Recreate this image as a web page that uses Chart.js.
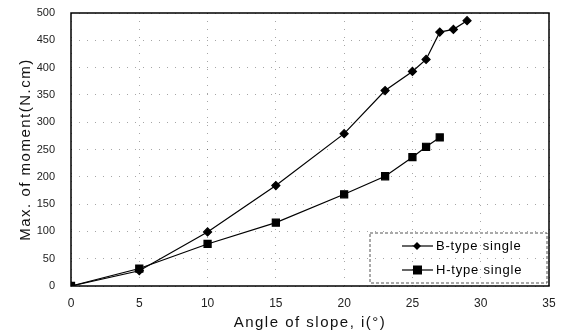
<!DOCTYPE html>
<html>
<head>
<meta charset="utf-8">
<script src="https://cdn.jsdelivr.net/npm/chart.js@4"></script>
<style>
  html, body { margin: 0; padding: 0; background: #fff; }
  #wrap { width: 563px; height: 334px; }
</style>
</head>
<body>
<div id="wrap"><canvas id="momentChart" width="563" height="334"></canvas></div>
<script>
// Data
const bAngles = [0, 5, 10, 15, 20, 23, 25, 26, 27, 28, 29];
const bMoment = [0, 28, 99, 184, 279, 358, 393, 415, 465, 470, 486];
const hAngles = [0, 5, 10, 15, 20, 23, 25, 26, 27];
const hMoment = [0, 32, 77, 116, 168, 201, 236, 255, 272];
const seriesNames = ['B-type single', 'H-type single'];
const xTitle = 'Angle of slope, i(°)';
const yTitle = 'Max. of moment(N.cm)';

const FONT = '"Liberation Sans", Arial, sans-serif';
const toPoints = (xs, ys) => xs.map((x, i) => ({ x: x, y: ys[i] }));

// axis titles are widely spaced in the scanned original
const spacingPlugin = {
    id: 'spacing',
    afterUpdate(chart) {
        Object.values(chart.scales).forEach(s => {
            if (s._spaced) return;
            const orig = s.drawTitle.bind(s);
            s.drawTitle = function () {
                const ctx = this.ctx;
                const prev = ctx.letterSpacing;
                ctx.letterSpacing = '1.5px';
                orig();
                ctx.letterSpacing = prev;
            };
            s._spaced = true;
        });
    }
};

// box round the plot area + legend inside it
const framePlugin = {
    id: 'frame',
    afterDraw(chart) {
        const { ctx, chartArea: a } = chart;
        ctx.save();
        ctx.strokeStyle = '#000';
        ctx.lineWidth = 1.5;
        ctx.strokeRect(a.left, a.top, a.right - a.left, a.bottom - a.top);

        // legend box
        const lx = 370, ly = 233, lw = 177, lh = 50;
        ctx.lineWidth = 1;
        ctx.strokeStyle = '#555';
        ctx.setLineDash([3, 2]);
        ctx.strokeRect(lx, ly, lw, lh);
        ctx.setLineDash([]);
        ctx.font = '13px ' + FONT;
        ctx.letterSpacing = '0.8px';
        ctx.textBaseline = 'middle';
        chart.data.datasets.forEach((ds, i) => {
            const yy = 246 + i * 24;
            ctx.strokeStyle = '#000';
            ctx.lineWidth = 1.2;
            ctx.beginPath();
            ctx.moveTo(402, yy);
            ctx.lineTo(433, yy);
            ctx.stroke();
            ctx.fillStyle = '#000';
            if (ds.pointStyle === 'rect') {
                ctx.fillRect(413, yy - 4.5, 9, 9);
            } else {
                ctx.beginPath();
                ctx.moveTo(417, yy - 4);
                ctx.lineTo(421, yy);
                ctx.lineTo(417, yy + 4);
                ctx.lineTo(413, yy);
                ctx.closePath();
                ctx.fill();
            }
            ctx.fillText(ds.label, 436, yy);
        });
        ctx.restore();
    }
};

// invisible tick marks give the label gap without padding the chart area
const gridX = {
    color: 'rgba(0,0,0,0.35)',
    lineWidth: 1,
    drawTicks: true,
    tickLength: 8,
    tickColor: 'rgba(0,0,0,0)'
};
const gridY = Object.assign({}, gridX, { tickLength: 14 });

new Chart(document.getElementById('momentChart').getContext('2d'), {
    type: 'scatter',
    data: {
        datasets: [{
            label: seriesNames[0],
            data: toPoints(bAngles, bMoment),
            showLine: true,
            borderColor: '#000',
            backgroundColor: '#000',
            borderWidth: 1.2,
            pointStyle: 'rectRot',
            pointRadius: 4,
            pointHoverRadius: 4
        }, {
            label: seriesNames[1],
            data: toPoints(hAngles, hMoment),
            showLine: true,
            borderColor: '#000',
            backgroundColor: '#000',
            borderWidth: 1.2,
            pointStyle: 'rect',
            pointRadius: 5,
            pointHoverRadius: 5
        }]
    },
    options: {
        responsive: false,
        animation: false,
        layout: { padding: { top: 13, right: 14, left: 17, bottom: 2 } },
        plugins: {
            legend: { display: false },
            tooltip: { enabled: false }
        },
        scales: {
            x: {
                type: 'linear',
                min: 0,
                max: 35,
                afterFit(scale) { scale.height = 46; },
                ticks: {
                    stepSize: 5,
                    color: '#222',
                    padding: 2,
                    font: { family: FONT, size: 12 }
                },
                grid: gridX,
                border: { display: false, dash: [1, 7] },
                title: {
                    display: true,
                    text: xTitle,
                    color: '#111',
                    padding: { top: 2, bottom: 0 },
                    font: { family: FONT, size: 15 }
                }
            },
            y: {
                min: 0,
                max: 500,
                afterFit(scale) { scale.width = 54; },
                ticks: {
                    stepSize: 50,
                    color: '#222',
                    padding: 2,
                    font: { family: FONT, size: 11 }
                },
                grid: gridY,
                border: { display: false, dash: [1, 7] },
                title: {
                    display: true,
                    text: yTitle,
                    color: '#111',
                    padding: { top: 0, bottom: 4 },
                    font: { family: FONT, size: 15 }
                }
            }
        }
    },
    plugins: [spacingPlugin, framePlugin]
});
</script>
</body>
</html>
